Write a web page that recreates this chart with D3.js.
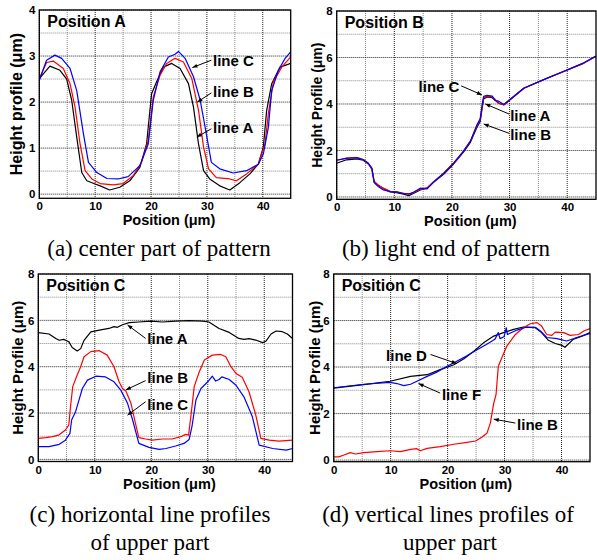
<!DOCTYPE html>
<html>
<head>
<meta charset="utf-8">
<script src="https://cdn.jsdelivr.net/npm/d3@7/dist/d3.min.js"></script>
<style>
body{margin:0;background:#fff}
text{font-family:"Liberation Sans",Arial,sans-serif}
text.cap{font-family:"Liberation Serif","Times New Roman",serif}
</style>
</head>
<body>
<script>

var W = 597, H = 560;

// (a) position A
var aLineA = [[0,2.51],[1.9,2.78],[3.7,2.69],[4.9,2.5],[5.8,2.04],[6.7,1.24],[7.6,0.47],[8.5,0.29],[10,0.22],[10.9,0.18],[12.6,0.09],[14.4,0.15],[16.2,0.29],[18,0.58],[19.2,1.09],[20.1,2.18],[21,2.44],[22.2,2.76],[23.7,2.84],[25.2,2.73],[26.7,2.4],[27.6,1.89],[28.5,1.09],[29.4,0.51],[30.5,0.33],[32.3,0.18],[34.1,0.09],[35.9,0.25],[37.7,0.44],[39.2,0.65],[40.1,1.02],[40.7,1.82],[41.6,2.4],[43.1,2.76],[45,2.84]];
var aLineB = [[0,2.51],[1.3,2.86],[2.5,2.89],[4.3,2.73],[5.5,2.4],[6.4,1.89],[7.3,1.09],[8.2,0.51],[9.4,0.33],[10.9,0.23],[13.2,0.2],[15,0.23],[16.8,0.4],[18.3,0.69],[19.5,1.16],[20.4,2.11],[21.6,2.58],[22.8,2.84],[24.3,2.95],[25.8,2.87],[27.3,2.51],[28.5,1.82],[29.4,1.02],[30.3,0.55],[31.7,0.36],[34.1,0.33],[35.3,0.29],[37.1,0.44],[39.2,0.65],[40.4,1.09],[41,1.75],[41.9,2.44],[43.4,2.76],[45,2.98]];
var aLineC = [[0,2.47],[1.3,2.91],[2.8,3.02],[4,2.95],[5.5,2.73],[6.7,2.25],[7.9,1.31],[8.8,0.69],[10.3,0.47],[12.1,0.34],[14.1,0.33],[15.9,0.38],[18,0.62],[19.5,1.09],[20.4,2.04],[21.6,2.65],[23.1,2.98],[24.3,3.04],[24.9,3.1],[26.1,2.95],[27.6,2.55],[28.8,2.04],[29.9,1.31],[30.8,0.69],[32.3,0.55],[34.7,0.46],[37.1,0.51],[39.2,0.65],[40.1,0.87],[41,1.45],[41.6,2.25],[42.8,2.69],[44,2.95],[45,3.09]];

// (b) position B
var bLineA = [[0,1.45],[1.7,1.6],[3.5,1.64],[4.6,1.58],[5.5,1.42],[6.1,1.2],[6.5,0.65],[7.2,0.5],[8.1,0.36],[9.3,0.22],[10.4,0.19],[11.6,0.12],[12.5,0.06],[13.3,0.15],[14.5,0.3],[15.7,0.38],[16.8,0.63],[18.6,0.99],[20.3,1.42],[22,1.93],[23.2,2.35],[24.3,2.98],[24.9,3.25],[25.2,3.75],[25.5,4.22],[26.1,4.3],[27,4.27],[27.5,4.16],[28.1,4.03],[29,3.96],[30.1,4.18],[32.5,4.68],[35.9,5.04],[39.4,5.4],[42.9,5.76],[45,6.05]];
var bLineB = [[0,1.58],[1.7,1.66],[3.5,1.69],[4.6,1.61],[5.5,1.44],[6.1,1.22],[6.5,0.68],[7.2,0.52],[8.1,0.38],[9.3,0.24],[10.4,0.22],[11.6,0.16],[12.5,0.12],[13.3,0.18],[14.5,0.33],[15.7,0.4],[16.8,0.66],[18.6,1.02],[20.3,1.45],[22,1.96],[23.2,2.4],[24.3,3.05],[24.9,3.33],[25.2,3.8],[25.5,4.27],[26.1,4.34],[27,4.3],[27.5,4.2],[28.1,4.04],[29,3.97],[30.1,4.19],[32.5,4.68],[35.9,5.04],[39.4,5.4],[42.9,5.76],[45,6.05]];
var bLineC = [[0,1.58],[1.7,1.67],[3.5,1.69],[4.6,1.61],[5.5,1.45],[6.1,1.24],[6.5,0.62],[7.2,0.45],[8.1,0.3],[9.3,0.23],[10.4,0.22],[11.6,0.15],[12.5,0.13],[13.3,0.2],[14.5,0.38],[15.2,0.36],[15.7,0.35],[16.8,0.64],[18.6,1.03],[20.3,1.47],[22,1.97],[23.2,2.4],[24.3,3.08],[24.9,3.36],[25.2,3.9],[25.5,4.33],[26.1,4.37],[27,4.34],[27.5,4.15],[28.1,4.12],[29,3.98],[30.1,4.2],[32.5,4.69],[35.9,5.05],[39.4,5.41],[42.9,5.77],[45,6.06]];

// (c) position C, horizontal lines
var cLineA = [[0,5.47],[1.9,5.41],[3.1,5.22],[3.7,5.14],[4.5,5.18],[5.4,5.08],[6,4.83],[6.9,4.68],[7.5,4.78],[8.1,5.14],[9.3,5.5],[10.8,5.58],[12.5,5.65],[13.4,5.73],[14,5.7],[14.9,5.81],[16.1,5.9],[17.8,5.93],[19.9,5.97],[22,5.93],[24.3,5.97],[26.7,5.99],[29.1,5.97],[30.2,5.93],[32,5.65],[33.8,5.48],[35.5,5.22],[36.4,5.18],[37.3,5.21],[38.5,5.15],[39.7,5.04],[40.3,5.1],[41.2,5.41],[42.1,5.54],[43.2,5.51],[44.1,5.41],[45,5.22]];
var cLineB = [[0,0.91],[1.3,0.94],[2.5,0.98],[3.7,1.06],[4.8,1.27],[5.4,1.48],[5.7,2.27],[6.1,3.14],[6.9,3.65],[7.5,4.0],[8.1,4.43],[9.3,4.65],[10.8,4.69],[12.2,4.5],[13.4,4.0],[14.3,3.35],[14.9,3.06],[15.5,2.95],[16.4,2.42],[17.2,1.55],[17.8,0.94],[19,0.88],[20.2,0.83],[22,0.88],[23.7,0.88],[25.2,0.98],[26.1,1.08],[26.6,1.05],[27,1.84],[27.6,3.14],[28.5,3.78],[29.4,4.29],[30.8,4.5],[32.3,4.53],[33.2,4.43],[34.1,4.0],[35,3.71],[36.1,3.54],[37.3,2.92],[38.5,1.91],[39.4,0.91],[40.9,0.83],[42.6,0.79],[45,0.83]];
var cLineC = [[0,0.55],[1.9,0.55],[3.7,0.65],[4.8,0.83],[5.6,1.12],[5.9,1.7],[6.6,2.06],[7.2,2.56],[7.8,3.06],[8.7,3.42],[10.2,3.59],[11.9,3.56],[13.4,3.35],[14.6,2.99],[15.8,2.42],[16.7,1.7],[17.8,0.69],[19.6,0.52],[21.4,0.43],[22.6,0.47],[24.3,0.58],[25.8,0.69],[26.7,0.86],[27.2,1.41],[27.9,2.56],[28.8,3.06],[30,3.35],[30.8,3.59],[31.4,3.38],[32,3.45],[32.5,3.56],[33.8,3.45],[35,3.2],[36.4,2.7],[37.9,1.84],[39.1,0.62],[41.5,0.47],[43.9,0.4],[45,0.47]];

// (d) position C, vertical lines
var dLineD = [[0,3.09],[5.3,3.24],[9.9,3.39],[13.5,3.6],[16.4,3.67],[18.7,3.89],[21.1,4.1],[22.8,4.35],[24.6,4.68],[26.3,5.04],[28.1,5.33],[29.8,5.48],[31.6,5.62],[33.3,5.72],[35.4,5.69],[36.5,5.48],[37.7,5.15],[38.9,5.01],[40.1,4.93],[40.6,4.85],[42.1,5.2],[43.6,5.33],[45,5.48]];
var dLineF = [[0,3.11],[5.3,3.26],[9.9,3.34],[11.1,3.29],[12.3,3.2],[13.5,3.26],[14.6,3.39],[16.4,3.6],[18.1,3.78],[19.9,4.03],[21.6,4.25],[23.3,4.47],[25.1,4.73],[26.8,4.97],[28.3,5.19],[28.9,5.48],[29.2,5.22],[29.9,5.3],[30.3,5.69],[30.5,5.4],[32.2,5.59],[33.9,5.72],[35.4,5.71],[36.3,5.55],[37.4,5.27],[39.2,5.22],[40.9,5.12],[42.7,5.27],[45,5.45]];
var dLineB = [[0,0.14],[0.9,0.14],[1.8,0.22],[2.9,0.32],[3.8,0.26],[5.3,0.32],[7.6,0.36],[9.9,0.4],[11.7,0.36],[13.5,0.46],[14.6,0.49],[15.2,0.4],[16.4,0.5],[18.7,0.58],[21.1,0.68],[23.4,0.76],[24.9,0.82],[26,0.98],[26.9,1.15],[27.5,1.59],[28.1,2.45],[28.5,2.81],[28.9,4.03],[29.5,4.39],[30.4,4.9],[31.9,5.4],[33.3,5.69],[34.5,5.86],[35.7,5.91],[36.5,5.76],[37.4,5.4],[38.3,5.36],[38.9,5.5],[40.4,5.48],[41.5,5.36],[43,5.4],[43.9,5.55],[45,5.65]];

var xTicks = [0,10,20,30,40];
var xMinor = [5,15,25,35];

var svg = d3.select("body").append("svg")
    .attr("width", W)
    .attr("height", H);

function drawPanel(p){

    var x = d3.scaleLinear().domain([0,45]).range([p.left,p.right]);
    var y = d3.scaleLinear().domain(p.yDomain).range([p.bottom,p.top]);
    var g = svg.append("g");

    // grid, minor then major
    g.selectAll(".vmin").data(xMinor).enter().append("line")
        .attr("x1",d=>x(d)).attr("x2",d=>x(d)).attr("y1",p.top).attr("y2",p.bottom)
        .attr("stroke","#888").attr("stroke-dasharray","1,1");
    g.selectAll(".hmin").data(p.yMinor).enter().append("line")
        .attr("y1",d=>y(d)).attr("y2",d=>y(d)).attr("x1",p.left).attr("x2",p.right)
        .attr("stroke","#888").attr("stroke-dasharray","1,1");
    g.selectAll(".vmaj").data(xTicks).enter().append("line")
        .attr("x1",d=>x(d)).attr("x2",d=>x(d)).attr("y1",p.top).attr("y2",p.bottom)
        .attr("stroke","#222").attr("stroke-dasharray","1,1");
    g.selectAll(".hmaj").data(p.yTicks).enter().append("line")
        .attr("y1",d=>y(d)).attr("y2",d=>y(d)).attr("x1",p.left).attr("x2",p.right)
        .attr("stroke","#222").attr("stroke-dasharray","1,1");

    var line = d3.line().x(d=>x(d[0])).y(d=>y(d[1]));
    p.series.forEach(function(s){
        g.append("path").datum(s.data)
            .attr("d",line)
            .attr("fill","none")
            .attr("stroke",s.color)
            .attr("stroke-width",1.2)
            .attr("stroke-linejoin","round");
    });

    // frame
    g.append("rect")
        .attr("x",p.left).attr("y",p.top)
        .attr("width",p.right-p.left).attr("height",p.bottom-p.top)
        .attr("fill","none").attr("stroke","#000").attr("stroke-width",1.3);

    // tick labels through axes
    var ax = g.append("g").attr("transform","translate(0,"+p.bottom+")")
        .call(d3.axisBottom(x).tickValues(xTicks).tickSize(0).tickPadding(4).tickFormat(d3.format("d")));
    var ay = g.append("g").attr("transform","translate("+p.left+",0)")
        .call(d3.axisLeft(y).tickValues(p.yTicks).tickSize(0).tickPadding(4).tickFormat(d3.format("d")));
    [ax,ay].forEach(function(a){
        a.select(".domain").remove();
        a.selectAll("text").attr("font-family","Liberation Sans, Arial, sans-serif")
            .attr("font-size",11.5).attr("font-weight","bold").attr("fill","#000");
    });

    g.append("text")
        .attr("x",(p.left+p.right)/2 + 4).attr("y",p.bottom+27)
        .attr("text-anchor","middle").attr("font-weight","bold").attr("font-size",14.5)
        .text("Position (\u03bcm)");

    g.append("text")
        .attr("transform","translate("+p.yTitleX+","+((p.top+p.bottom)/2)+") rotate(-90)")
        .attr("text-anchor","middle").attr("font-weight","bold").attr("font-size",p.yTitleSize)
        .text(p.yTitle);

    g.append("text")
        .attr("x",p.left+8).attr("y",p.top+17)
        .attr("font-weight","bold").attr("font-size",16)
        .text(p.name);

    // line labels with arrows
    p.labels.forEach(function(l){
        g.append("text")
            .attr("x",x(l.tx)).attr("y",y(l.ty))
            .attr("text-anchor",l.anchor||"start")
            .attr("font-weight","bold").attr("font-size",15)
            .text(l.text);
        var x1=x(l.ax[0]), y1=y(l.ax[1]), x2=x(l.ax[2]), y2=y(l.ax[3]);
        g.append("line")
            .attr("x1",x1).attr("y1",y1).attr("x2",x2).attr("y2",y2)
            .attr("stroke","#000").attr("stroke-width",1);
        var ang = Math.atan2(y2-y1,x2-x1);
        var hl = 5, hw = 2;
        var bx = x2-hl*Math.cos(ang), by = y2-hl*Math.sin(ang);
        g.append("path")
            .attr("d","M"+x2+","+y2+"L"+(bx-hw*Math.sin(ang))+","+(by+hw*Math.cos(ang))+"L"+(bx+hw*Math.sin(ang))+","+(by-hw*Math.cos(ang))+"Z")
            .attr("fill","#000");
    });
}

drawPanel({
    left:39.3, right:290.7, top:10, bottom:198.3, yDomain:[-0.09,4],
    yTicks:[0,1,2,3,4], yMinor:[0.5,1.5,2.5,3.5],
    name:"Position A", yTitle:"Height profile (\u03bcm)", yTitleX:22, yTitleSize:16,
    series:[{data:aLineA,color:"#000"},{data:aLineB,color:"#f00"},{data:aLineC,color:"#00f"}],
    labels:[
        {text:"line C", tx:31.1, ty:2.78, ax:[30.8,2.91,27.4,2.75]},
        {text:"line B", tx:31.1, ty:2.1, ax:[30.8,2.2,28.3,2.0]},
        {text:"line A", tx:31.1, ty:1.33, ax:[30.8,1.42,28.2,1.24]}
    ]
});

drawPanel({
    left:336.7, right:596, top:11, bottom:199.3, yDomain:[-0.1,8],
    yTicks:[0,2,4,6,8], yMinor:[1,3,5,7],
    name:"Position B", yTitle:"Height Profile (\u03bcm)", yTitleX:322, yTitleSize:14,
    series:[{data:bLineA,color:"#000"},{data:bLineB,color:"#f00"},{data:bLineC,color:"#00f"}],
    labels:[
        {text:"line C", tx:21.3, ty:4.5, anchor:"end", ax:[21.6,4.78,25.2,4.39]},
        {text:"line A", tx:30.1, ty:3.27, ax:[29.9,3.57,25.8,4.0]},
        {text:"line B", tx:30.1, ty:2.43, ax:[29.9,2.74,25.5,3.14]}
    ]
});

drawPanel({
    left:38.3, right:292.5, top:274, bottom:461.5, yDomain:[-0.09,8],
    yTicks:[0,2,4,6,8], yMinor:[1,3,5,7],
    name:"Position C", yTitle:"Height Profile (\u03bcm)", yTitleX:23, yTitleSize:15,
    series:[{data:cLineA,color:"#000"},{data:cLineB,color:"#f00"},{data:cLineC,color:"#00f"}],
    labels:[
        {text:"line A", tx:19.3, ty:4.96, ax:[19.0,5.22,15.8,5.8]},
        {text:"line B", tx:19.3, ty:3.29, ax:[19.0,3.4,15.5,3.0]},
        {text:"line C", tx:19.3, ty:2.14, ax:[19.0,2.49,15.8,1.91]}
    ]
});

drawPanel({
    left:333.7, right:590, top:274, bottom:461.7, yDomain:[-0.07,8],
    yTicks:[0,2,4,6,8], yMinor:[1,3,5,7],
    name:"Position C", yTitle:"Height Profile (\u03bcm)", yTitleX:320, yTitleSize:15,
    series:[{data:dLineD,color:"#000"},{data:dLineB,color:"#f00"},{data:dLineF,color:"#00f"}],
    labels:[
        {text:"line D", tx:9.2, ty:4.27, ax:[17.0,4.54,21.6,4.15]},
        {text:"line F", tx:19.0, ty:2.6, ax:[18.7,2.88,14.9,3.29]},
        {text:"line B", tx:32.2, ty:1.28, ax:[31.9,1.59,28.1,1.76]}
    ]
});

// captions
var captions = [
    {x:159, y:256, t:"(a) center part of pattern"},
    {x:446, y:256, t:"(b) light end of pattern"},
    {x:150, y:522, t:"(c) horizontal line profiles"},
    {x:150, y:550, t:"of upper part"},
    {x:448, y:522, t:"(d) vertical lines profiles of"},
    {x:450, y:550, t:"upper part"}
];
svg.selectAll(".cap").data(captions).enter().append("text")
    .attr("class","cap")
    .attr("x",d=>d.x).attr("y",d=>d.y)
    .attr("text-anchor","middle")
    .attr("font-size",23)
    .text(d=>d.t);

</script>
</body>
</html>
